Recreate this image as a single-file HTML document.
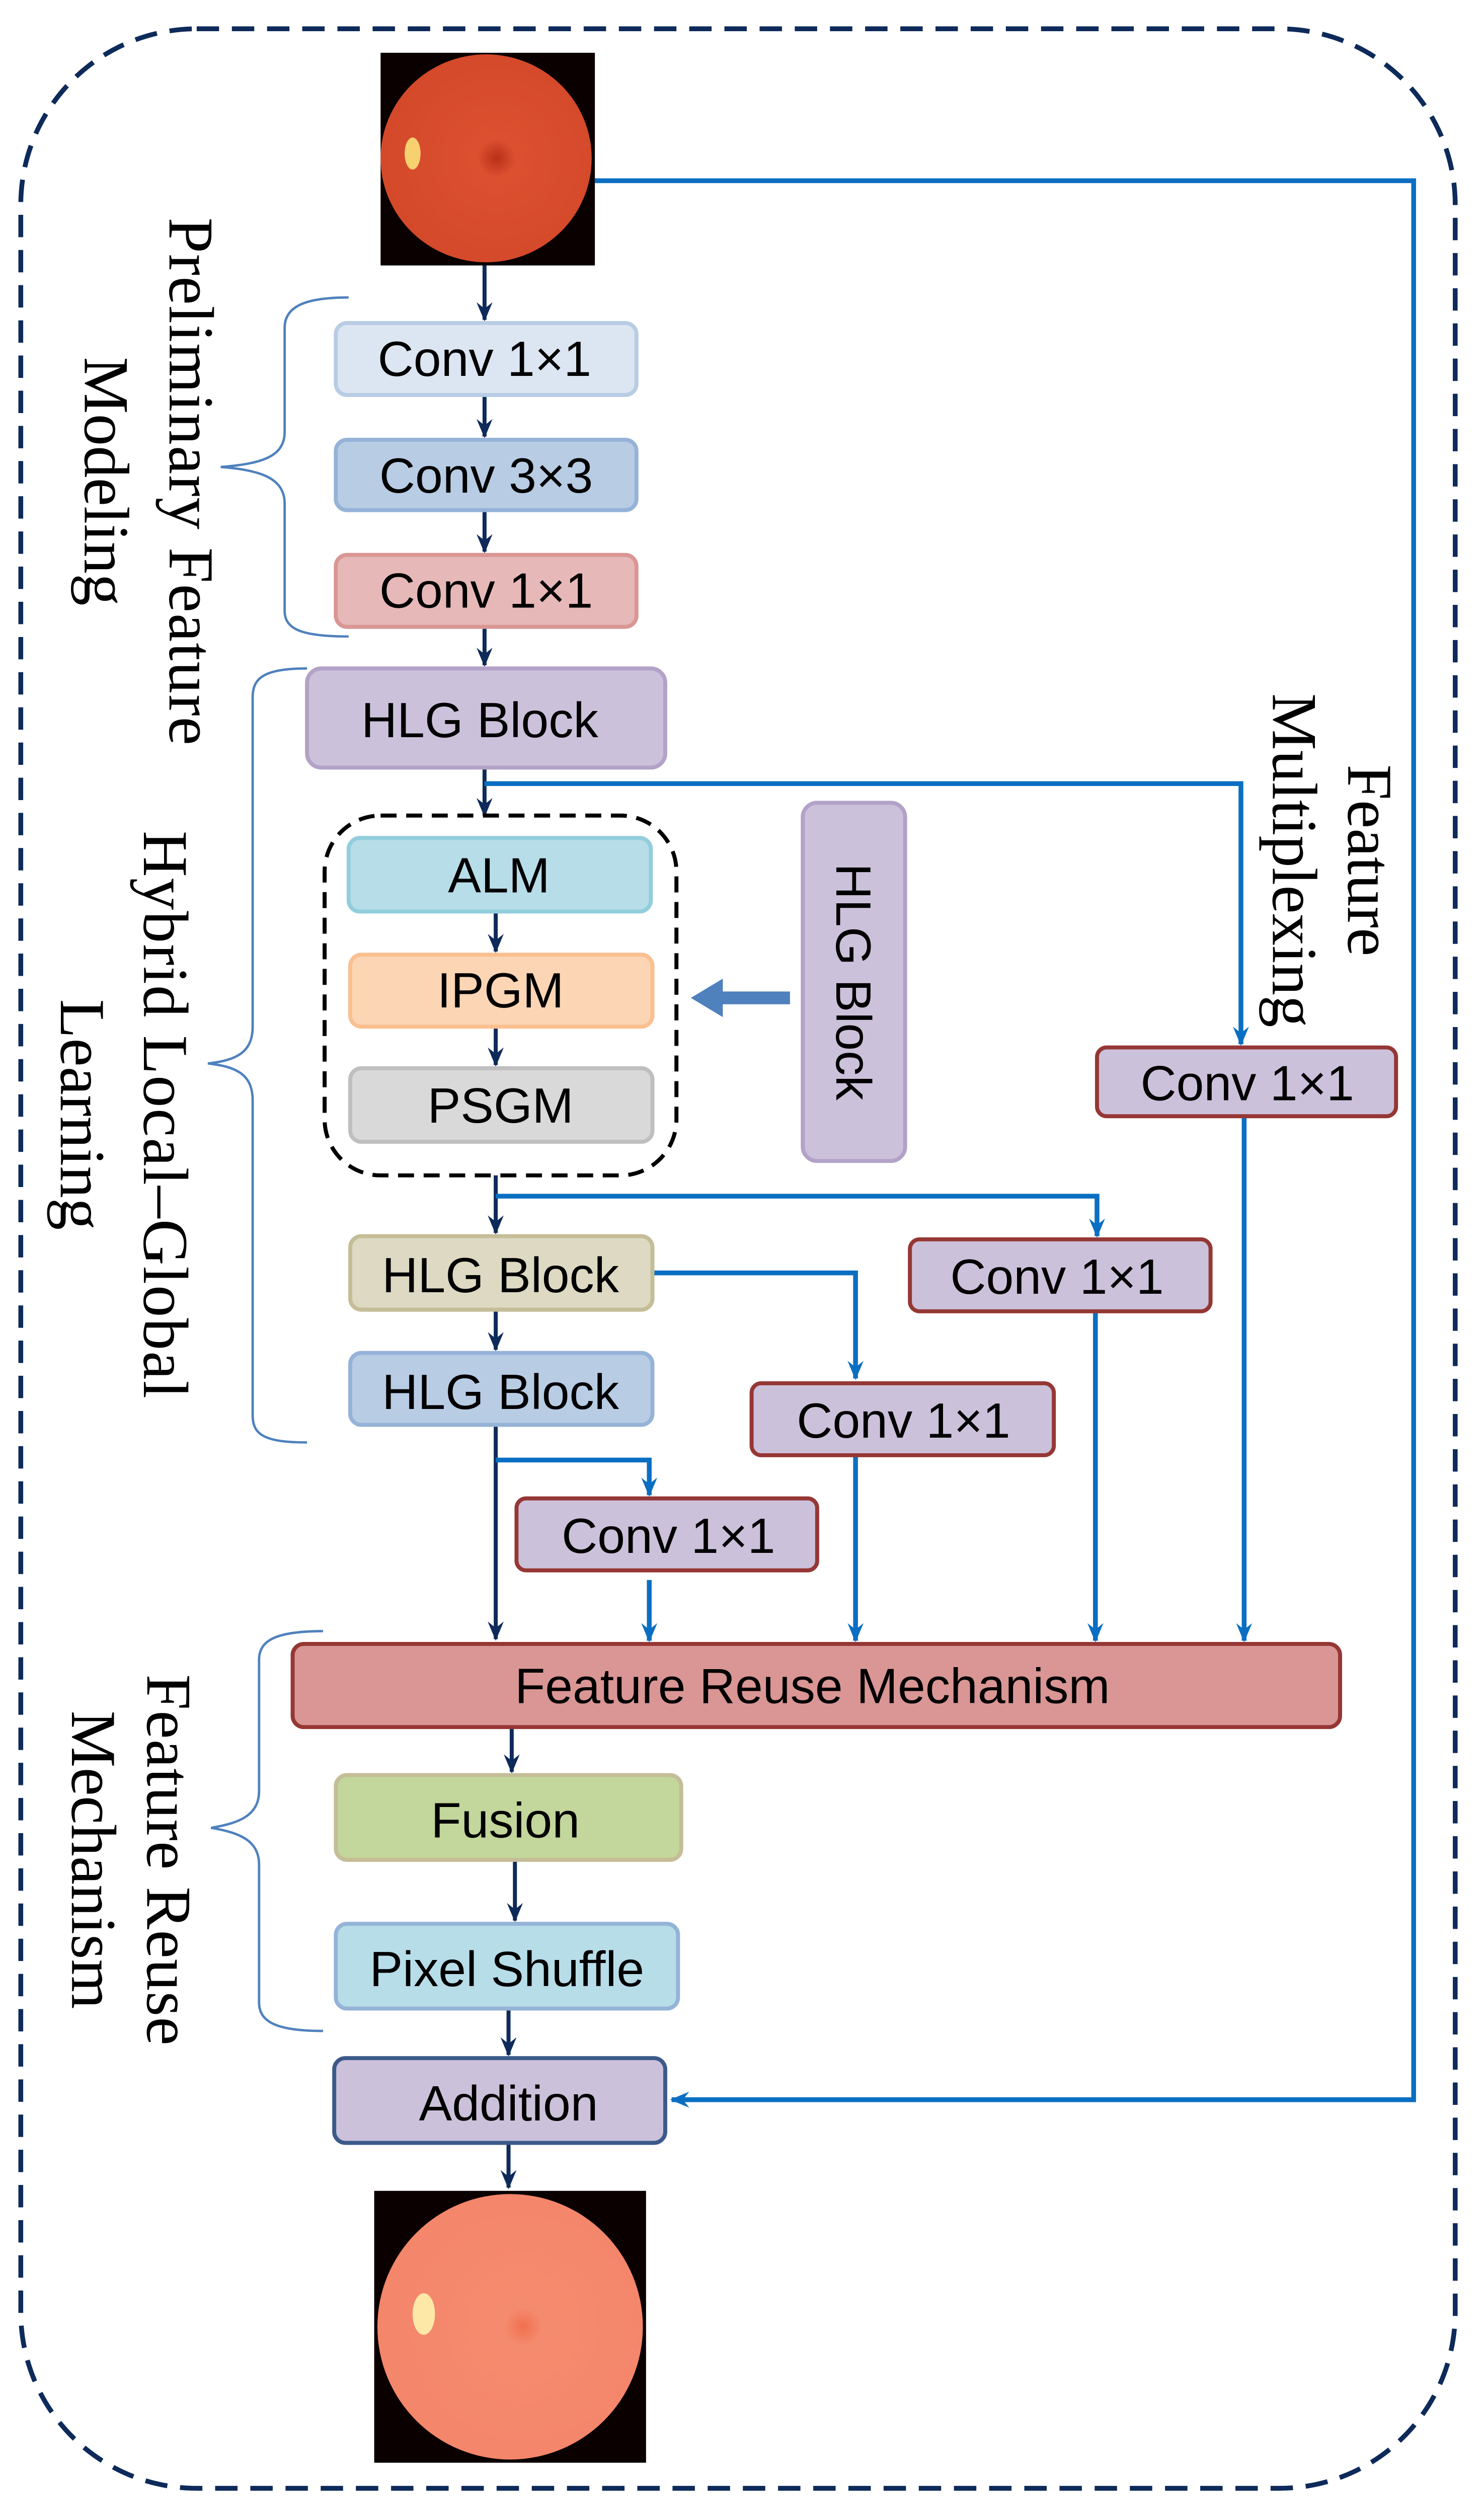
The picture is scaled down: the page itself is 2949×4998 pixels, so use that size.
<!DOCTYPE html>
<html><head><meta charset="utf-8"><style>html,body{margin:0;padding:0;background:#fff}svg{display:block}</style></head>
<body>
<svg width="2949" height="4998" viewBox="0 0 928 1572.7" preserveAspectRatio="none" xmlns="http://www.w3.org/2000/svg">
<defs>
<marker id="an" markerWidth="10" markerHeight="12" refX="5" refY="11" markerUnits="userSpaceOnUse" viewBox="0 0 10 12">
<path d="M0,0 L5,12 L10,0 L5,4 Z" fill="#0d2a5a"/></marker>
<marker id="ab" markerWidth="10" markerHeight="12" refX="5" refY="11" markerUnits="userSpaceOnUse" viewBox="0 0 10 12">
<path d="M0,0 L5,12 L10,0 L5,4 Z" fill="#0a6fc2"/></marker>
<marker id="abl" markerWidth="12" markerHeight="10" refX="1" refY="5" markerUnits="userSpaceOnUse" viewBox="0 0 12 10">
<path d="M12,0 L0,5 L12,10 L8,5 Z" fill="#0a6fc2"/></marker>
<radialGradient id="eye1" cx="0.55" cy="0.5" r="0.6"><stop offset="0" stop-color="#b83018"/><stop offset="0.15" stop-color="#dc5030"/><stop offset="1" stop-color="#d24828"/></radialGradient>
<radialGradient id="eye2" cx="0.55" cy="0.5" r="0.6"><stop offset="0" stop-color="#f07050"/><stop offset="0.12" stop-color="#f58b6e"/><stop offset="1" stop-color="#f4856a"/></radialGradient>
</defs>
<g font-family="Liberation Sans, sans-serif">
<rect x="13" y="18" width="897" height="1538" rx="110" fill="none" stroke="#0d2a5a" stroke-width="3" stroke-dasharray="14 8"/>
<rect x="238" y="33" width="134" height="133" fill="#0a0000"/>
<ellipse cx="304" cy="99" rx="66" ry="65" fill="url(#eye1)"/>
<ellipse cx="258" cy="96" rx="5" ry="10" fill="#f7d070"/>
<rect x="234" y="1370" width="170" height="170" fill="#0a0000"/>
<ellipse cx="319" cy="1455" rx="83" ry="83" fill="url(#eye2)"/>
<ellipse cx="265" cy="1447" rx="7" ry="13" fill="#fde8a8"/>
<polyline points="372,113 884,113 884,1313 420,1313" fill="none" stroke="#0a6fc2" stroke-width="3" marker-end="url(#abl)"/>
<g stroke="#0d2a5a" stroke-width="2.5" fill="none">
<line x1="303" y1="166" x2="303" y2="200" marker-end="url(#an)"/>
<line x1="303" y1="247" x2="303" y2="273" marker-end="url(#an)"/>
<line x1="303" y1="319" x2="303" y2="345" marker-end="url(#an)"/>
<line x1="303" y1="392" x2="303" y2="416" marker-end="url(#an)"/>
<line x1="303" y1="480" x2="303" y2="510" marker-end="url(#an)"/>
<line x1="310" y1="570" x2="310" y2="595" marker-end="url(#an)"/>
<line x1="310" y1="642" x2="310" y2="666" marker-end="url(#an)"/>
<line x1="310" y1="735" x2="310" y2="771" marker-end="url(#an)"/>
<line x1="310" y1="819" x2="310" y2="844" marker-end="url(#an)"/>
<line x1="310" y1="891" x2="310" y2="1025" marker-end="url(#an)"/>
<line x1="320" y1="1080" x2="320" y2="1108" marker-end="url(#an)"/>
<line x1="322" y1="1163" x2="322" y2="1201" marker-end="url(#an)"/>
<line x1="318" y1="1256" x2="318" y2="1285" marker-end="url(#an)"/>
<line x1="318" y1="1340" x2="318" y2="1368" marker-end="url(#an)"/>
</g>
<g stroke="#0a6fc2" stroke-width="3" fill="none">
<polyline points="303,490 776,490 776,653" marker-end="url(#ab)"/>
<polyline points="310,748 686,748 686,773" marker-end="url(#ab)"/>
<polyline points="408,796 535,796 535,862" marker-end="url(#ab)"/>
<polyline points="310,913 406,913 406,935" marker-end="url(#ab)"/>
<line x1="406" y1="988" x2="406" y2="1026" marker-end="url(#ab)"/>
<line x1="535" y1="910" x2="535" y2="1026" marker-end="url(#ab)"/>
<line x1="685" y1="820" x2="685" y2="1026" marker-end="url(#ab)"/>
<line x1="778" y1="698" x2="778" y2="1026" marker-end="url(#ab)"/>
</g>
<g stroke="#4f81bd" stroke-width="1.5" fill="none">
<path d="M218,186 C190,186 178,192 178,205 L178,270 C178,285 165,290 138,292 C165,294 178,300 178,315 L178,382 C178,394 190,398 218,398"/>
<path d="M192,418 C165,418 158,424 158,436 L158,642 C158,658 148,663 130,665 C148,667 158,672 158,688 L158,885 C158,897 165,902 192,902"/>
<path d="M202,1020 C172,1020 162,1026 162,1038 L162,1120 C162,1135 150,1140 132,1143 C150,1146 162,1151 162,1166 L162,1252 C162,1264 172,1270 202,1270"/>
</g>
<rect x="203" y="510" width="220" height="225" rx="35" fill="none" stroke="#000" stroke-width="2.5" stroke-dasharray="10 6"/>
<g stroke-width="2.5" fill="#000">
<rect x="210" y="202" width="188" height="45" rx="7" fill="#dce6f2" stroke="#b8cce4"/>
<rect x="210" y="275" width="188" height="44" rx="7" fill="#b8cce4" stroke="#95b3d7"/>
<rect x="210" y="347" width="188" height="45" rx="7" fill="#e6b9b8" stroke="#d99694"/>
<rect x="192" y="418" width="224" height="62" rx="9" fill="#ccc1da" stroke="#b3a2c7"/>
<rect x="218" y="524" width="189" height="46" rx="7" fill="#b7dde8" stroke="#92cddc"/>
<rect x="219" y="597" width="189" height="45" rx="7" fill="#fcd5b5" stroke="#fac090"/>
<rect x="219" y="668" width="189" height="46" rx="7" fill="#d9d9d9" stroke="#bfbfbf"/>
<rect x="502" y="502" width="64" height="224" rx="9" fill="#ccc1da" stroke="#b3a2c7"/>
<rect x="686" y="655" width="187" height="43" rx="6" fill="#ccc1da" stroke="#953735"/>
<rect x="569" y="775" width="188" height="45" rx="6" fill="#ccc1da" stroke="#953735"/>
<rect x="219" y="773" width="189" height="46" rx="7" fill="#ddd9c3" stroke="#c4bd97"/>
<rect x="470" y="865" width="189" height="45" rx="6" fill="#ccc1da" stroke="#953735"/>
<rect x="219" y="846" width="189" height="45" rx="7" fill="#b8cce4" stroke="#95b3d7"/>
<rect x="323" y="937" width="188" height="45" rx="6" fill="#ccc1da" stroke="#953735"/>
<rect x="183" y="1028" width="655" height="52" rx="7" fill="#d99694" stroke="#953735"/>
<rect x="210" y="1110" width="216" height="53" rx="7" fill="#c3d69b" stroke="#c4bd97"/>
<rect x="210" y="1203" width="214" height="53" rx="7" fill="#b7dde8" stroke="#95b3d7"/>
<rect x="209" y="1287" width="207" height="53" rx="7" fill="#ccc1da" stroke="#3b5a8a"/>
</g>
<path d="M494,620 L452,620 L452,612 L432,624 L452,636 L452,628 L494,628 Z" fill="#4f81bd"/>
<g font-size="31" text-anchor="middle" fill="#000" font-family="Liberation Sans Narrow, Liberation Sans, sans-serif">
<text x="303" y="235">Conv 1×1</text>
<text x="304" y="308">Conv 3×3</text>
<text x="304" y="380">Conv 1×1</text>
<text x="300" y="461">HLG Block</text>
<text x="312" y="558">ALM</text>
<text x="313" y="630">IPGM</text>
<text x="313" y="702">PSGM</text>
<text x="780" y="688">Conv 1×1</text>
<text x="661" y="809">Conv 1×1</text>
<text x="313" y="808">HLG Block</text>
<text x="565" y="899">Conv 1×1</text>
<text x="313" y="881">HLG Block</text>
<text x="418" y="971">Conv 1×1</text>
<text x="508" y="1065">Feature Reuse Mechanism</text>
<text x="316" y="1149">Fusion</text>
<text x="317" y="1242">Pixel Shuffle</text>
<text x="318" y="1326">Addition</text>
<text transform="translate(523,614) rotate(90)">HLG Block</text>
</g>
<g font-family="Liberation Serif, serif" font-size="40" text-anchor="middle" fill="#000">
<text transform="translate(106,301) rotate(90)" textLength="330">Preliminary Feature</text>
<text transform="translate(53,301) rotate(90)">Modeling</text>
<text transform="translate(90,697) rotate(90)" textLength="355">Hybrid Local–Global</text>
<text transform="translate(38,697) rotate(90)">Learning</text>
<text transform="translate(92,1163) rotate(90)" textLength="232">Feature Reuse</text>
<text transform="translate(45,1163) rotate(90)">Mechanism</text>
<text transform="translate(843,538) rotate(90)">Feature</text>
<text transform="translate(796,538) rotate(90)">Multiplexing</text>
</g>
</g>
</svg>
</body></html>
